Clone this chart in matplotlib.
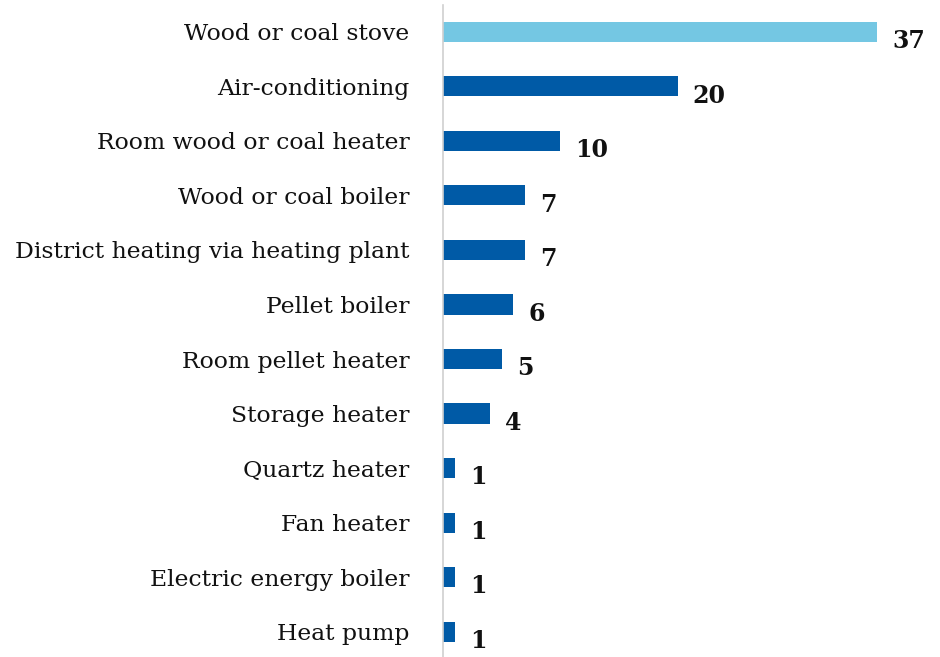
import matplotlib.pyplot as plt

labels = ["Wood or coal stove", "Air-conditioning", "Room wood or coal heater",
          "Wood or coal boiler", "District heating via heating plant", "Pellet boiler",
          "Room pellet heater", "Storage heater", "Quartz heater", "Fan heater",
          "Electric energy boiler", "Heat pump"]
values = [37, 20, 10, 7, 7, 6, 5, 4, 1, 1, 1, 1]
colors = ["#74c7e3"] + ["#005aa6"] * 11

fig = plt.figure(figsize=(9.4, 6.57), dpi=100)
ax = fig.add_axes([443/940, -2/657, 497/940, 654.5/657])

y = range(len(values))
ax.barh(y, values, height=0.37, color=colors)
ax.set_ylim(len(values) - 0.5, -0.5)
ax.set_xlim(0, 497/11.73)

for i, v in enumerate(values):
    ax.text(v + 1.3, i + 0.17, str(v), va="center", ha="left",
            fontsize=17, fontweight="bold", family="DejaVu Serif", color="#111111")

ax.set_yticks(list(y))
ax.set_yticklabels(labels, fontsize=16.9, family="DejaVu Serif", color="#111111")
ax.tick_params(axis="y", length=0, pad=24)
ax.set_xticks([])
for s in ["top", "right", "bottom"]:
    ax.spines[s].set_visible(False)
ax.spines["left"].set_color("#d0d0d0")
ax.spines["left"].set_linewidth(1.2)

fig.savefig("out.png", dpi=100)
